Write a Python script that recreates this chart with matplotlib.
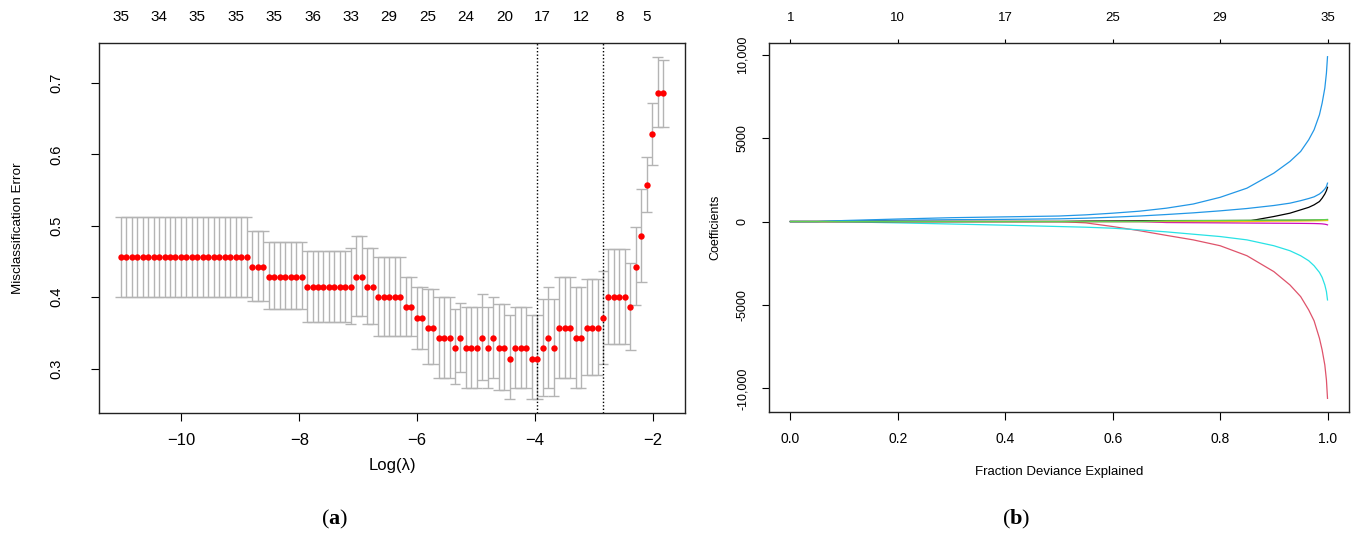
import matplotlib.pyplot as plt
import numpy as np

plt.rcParams['font.family'] = ['Liberation Sans', 'DejaVu Sans']
plt.rcParams['mathtext.fontset'] = 'custom'
plt.rcParams['mathtext.bf'] = 'Liberation Serif:bold'
plt.rcParams['mathtext.rm'] = 'Liberation Serif'

# ---- panel (a): cross-validated misclassification error ----
log_lambda = [
    -11.030, -10.937, -10.844, -10.751, -10.658, -10.565, -10.472, -10.379, -10.286, -10.193,
    -10.100, -10.007, -9.914, -9.821, -9.728, -9.635, -9.542, -9.449, -9.356, -9.263,
    -9.170, -9.077, -8.984, -8.891, -8.798, -8.705, -8.612, -8.519, -8.426, -8.333,
    -8.240, -8.147, -8.054, -7.961, -7.868, -7.775, -7.682, -7.589, -7.496, -7.403,
    -7.310, -7.217, -7.124, -7.031, -6.938, -6.845, -6.752, -6.659, -6.566, -6.473,
    -6.380, -6.287, -6.194, -6.101, -6.008, -5.915, -5.822, -5.729, -5.636, -5.543,
    -5.450, -5.357, -5.264, -5.171, -5.078, -4.985, -4.892, -4.799, -4.706, -4.613,
    -4.520, -4.427, -4.334, -4.241, -4.148, -4.055, -3.962, -3.869, -3.776, -3.683,
    -3.590, -3.497, -3.404, -3.311, -3.218, -3.125, -3.032, -2.939, -2.846, -2.753,
    -2.660, -2.567, -2.474, -2.381, -2.288, -2.195, -2.102, -2.009, -1.916, -1.823,
]
cv_error = (
    [0.457] * 24 + [0.443] * 3 + [0.429] * 7 + [0.414] * 9 + [0.429] * 2 + [0.414] * 2
    + [0.400] * 5 + [0.386] * 2 + [0.371] * 2 + [0.357] * 2 + [0.343] * 3
    + [0.329, 0.343, 0.329, 0.329, 0.329, 0.343, 0.329, 0.343, 0.329, 0.329, 0.314]
    + [0.329] * 3 + [0.314] * 2 + [0.329, 0.343, 0.329] + [0.357] * 3 + [0.343] * 2
    + [0.357] * 3 + [0.371] + [0.400] * 4 + [0.386, 0.443, 0.486, 0.557, 0.629, 0.686, 0.686]
)
cv_upper = (
    [0.513] * 24 + [0.493] * 3 + [0.477] * 7 + [0.465] * 8 + [0.469] + [0.486] * 2 + [0.469] * 2
    + [0.456] * 5 + [0.429] * 2 + [0.415] * 2 + [0.412] * 2 + [0.401] * 3
    + [0.383, 0.392, 0.386, 0.386, 0.386, 0.405, 0.386, 0.401, 0.390, 0.390, 0.375]
    + [0.386] * 3 + [0.375] * 2 + [0.397, 0.415, 0.397] + [0.429] * 3 + [0.415] * 2
    + [0.426] * 3 + [0.437] + [0.467] * 4 + [0.448, 0.498, 0.551, 0.597, 0.672, 0.737, 0.732]
)
cv_lower = (
    [0.401] * 24 + [0.395] * 3 + [0.383] * 7 + [0.365] * 8 + [0.362] + [0.374] * 2 + [0.362] * 2
    + [0.345] * 5 + [0.345] * 2 + [0.328] * 2 + [0.306] * 2 + [0.287] * 3
    + [0.278, 0.295, 0.273, 0.273, 0.273, 0.284, 0.273, 0.287, 0.270, 0.270, 0.257]
    + [0.273] * 3 + [0.257] * 2 + [0.262, 0.273, 0.262] + [0.287] * 3 + [0.273] * 2
    + [0.291] * 3 + [0.307] + [0.334] * 4 + [0.326, 0.389, 0.422, 0.519, 0.585, 0.639, 0.639]
)
nz_labels = ['35', '34', '35', '35', '35', '36', '33', '29', '25', '24', '20', '17', '12', '8', '5']
nz_index = [0, 7, 14, 21, 28, 35, 42, 49, 56, 63, 70, 77, 84, 91, 96]
lambda_min_index = 76
lambda_1se_index = 88
a_xticks = [-10, -8, -6, -4, -2]
a_yticks = [0.3, 0.4, 0.5, 0.6, 0.7]

# ---- panel (b): coefficient paths ----
dev_frac = [0.0, 0.05, 0.1, 0.2, 0.3, 0.4, 0.5, 0.55, 0.6, 0.65, 0.7, 0.75,
            0.8, 0.85, 0.9, 0.93, 0.95, 0.965, 0.975, 0.985, 0.99, 0.995, 0.998, 1.0]
coef_red = [0, 0, 0, 0, 0, 0, 0, -80, -300, -550, -830, -1100,
            -1450, -2050, -3000, -3800, -4500, -5300, -5950, -7000, -7700, -8600, -9500, -10600]
coef_blue_b = [0, 0, 40, 80, 110, 130, 160, 200, 260, 330, 420, 520,
               640, 780, 960, 1100, 1250, 1380, 1480, 1650, 1780, 1950, 2100, 2300]
coef_cyan = [0, 0, -20, -80, -150, -220, -300, -340, -400, -500, -620, -760,
             -900, -1100, -1450, -1750, -2050, -2350, -2650, -3050, -3350, -3800, -4200, -4700]
coef_black = [0, 0, 0, 0, 0, 0, 0, 0, 0, 0, 0, 0,
              0, 10, 300, 500, 700, 850, 1000, 1200, 1400, 1650, 1850, 2050]
coef_dark = [0, 0, 0, 0, 0, 0, 0, 30, 40, 50, 55, 60,
             60, 65, 70, 70, 75, 75, 80, 80, 85, 85, 90, 90]
coef_magenta = [0, 0, 0, 0, 0, 0, 0, 0, 0, 0, -60, -70,
                -80, -90, -100, -105, -110, -115, -120, -130, -140, -160, -180, -200]
coef_yellow = [0, 0, 0, 0, 0, 0, 0, 0, 0, 0, 0, 0,
               0, 0, 20, 25, 30, 35, 40, 45, 50, 55, 60, 60]
coef_blue_a = [0, 0, 60, 150, 230, 280, 330, 400, 500, 620, 800, 1050,
               1450, 2000, 2900, 3600, 4200, 4900, 5500, 6400, 7100, 8000, 8900, 9880]
coef_green = [0, 0, 0, 0, 0, 0, 0, 0, 0, 0, 40, 50,
              60, 70, 80, 85, 90, 95, 100, 105, 110, 115, 120, 125]
b_xticks = [0.0, 0.2, 0.4, 0.6, 0.8, 1.0]
b_xticklabels = ['0.0', '0.2', '0.4', '0.6', '0.8', '1.0']
b_yticks = [10000, 5000, 0, -5000, -10000]
b_yticklabels = ['10,000', '5000', '0', '-5000', '-10,000']
df_labels = ['1', '10', '17', '25', '29', '35']

paths = [
    (coef_red, '#DF536B'), (coef_blue_b, '#2297E6'), (coef_cyan, '#28E2E5'),
    (coef_black, 'black'), (coef_dark, '#222222'), (coef_magenta, '#CD0BBC'),
    (coef_yellow, '#F5C710'), (coef_blue_a, '#2297E6'), (coef_green, '#61D04F'),
]

px = 72 / 100  # points per pixel
narrow = ['Liberation Sans Narrow', 'Liberation Sans', 'DejaVu Sans']

fig = plt.figure(figsize=(13.54, 5.36), dpi=100)
ax1 = fig.add_axes([0.0731, 0.2295, 0.4328, 0.6903])
ax2 = fig.add_axes([0.5679, 0.2313, 0.4284, 0.6884])

# panel (a)
x = np.array(log_lambda)
barw = 0.01 * (x.max() - x.min())
bar_col = '#b4b4b4'
ax1.vlines(x, cv_lower, cv_upper, color=bar_col, lw=1.0)
ax1.hlines(cv_upper, x - barw, x + barw, color=bar_col, lw=1.0)
ax1.hlines(cv_lower, x - barw, x + barw, color=bar_col, lw=1.0)
ax1.plot(x, cv_error, 'o', color='red', ms=4.6, mec='none', zorder=3)
for i in (lambda_min_index, lambda_1se_index):
    ax1.axvline(x[i], color='black', ls=(0, (1, 1.5)), lw=1)

xr = x.max() - x.min()
ax1.set_xlim(x.min() - 0.04 * xr, x.max() + 0.04 * xr)
ylo, yhi = min(cv_lower), max(cv_upper)
ax1.set_ylim(ylo - 0.04 * (yhi - ylo), yhi + 0.04 * (yhi - ylo))
ax1.set_xticks(a_xticks)
ax1.set_yticks(a_yticks)
ax1.set_yticklabels([f'{v:.1f}' for v in a_yticks], rotation=90, va='center',
                    family=narrow, fontsize=10.5)
ax1.tick_params(axis='x', length=8 * px, pad=12 * px, labelsize=12)
ax1.tick_params(axis='y', length=8 * px, pad=28 * px)
ax1.set_xlabel('Log(λ)', fontsize=12)
ax1.xaxis.set_label_coords(0.5, -0.143)
ax1.xaxis.label.set_va('center')
ax1.set_ylabel('Misclassification Error', family=narrow, fontsize=9.7)
ax1.yaxis.set_label_coords(-0.138, 0.5)
ax1.yaxis.label.set_va('center')
top1 = ax1.secondary_xaxis('top')
top1.set_xticks(x[nz_index], labels=nz_labels)
top1.tick_params(length=0, pad=19 * px, labelsize=11)
top1.spines['top'].set_visible(False)

# panel (b)
for vals, col in paths:
    ax2.plot(dev_frac, vals, color=col, lw=0.9)
ax2.set_xlim(-0.04, 1.04)
allv = [v for vals, _ in paths for v in vals]
ax2.set_ylim(min(allv) - 0.04 * (max(allv) - min(allv)), max(allv) + 0.04 * (max(allv) - min(allv)))
ax2.set_xticks(b_xticks, labels=b_xticklabels)
ax2.set_yticks(b_yticks)
ax2.set_yticklabels(b_yticklabels, rotation=90, va='center', family=narrow, fontsize=9)
ax2.tick_params(axis='x', length=8 * px, pad=12 * px, labelsize=10)
ax2.tick_params(axis='y', length=7 * px, pad=13 * px)
ax2.set_xlabel('Fraction Deviance Explained', fontsize=9.5)
ax2.xaxis.set_label_coords(0.5, -0.163)
ax2.xaxis.label.set_va('center')
ax2.set_ylabel('Coefficients', family=narrow, fontsize=9)
ax2.yaxis.set_label_coords(-0.093, 0.5)
ax2.yaxis.label.set_va('center')
top2 = ax2.secondary_xaxis('top')
top2.set_xticks(b_xticks, labels=df_labels)
top2.tick_params(length=4 * px, pad=15 * px, labelsize=9.5)
top2.spines['top'].set_visible(False)

for ax in (ax1, ax2):
    for s in ax.spines.values():
        s.set_linewidth(1)
        s.set_color('#222222')

fig.text(335 / 1354, 1 - 519 / 536, r'($\mathbf{a}$)', ha='center', va='center',
         fontsize=16, family='Liberation Serif')
fig.text(1016 / 1354, 1 - 519 / 536, r'($\mathbf{b}$)', ha='center', va='center',
         fontsize=16, family='Liberation Serif')

fig.savefig('out.png', dpi=100)
